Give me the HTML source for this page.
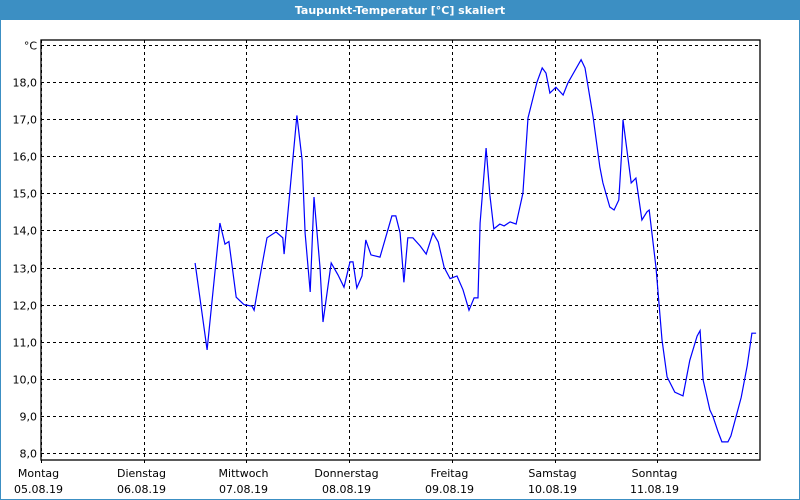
<!DOCTYPE html>
<html><head><meta charset="utf-8"><style>
body{margin:0;background:#fff;}
#wrap{position:relative;width:800px;height:500px;overflow:hidden;font-family:"DejaVu Sans","Liberation Sans",sans-serif;}
</style></head><body>
<div id="wrap">
<svg id="chart" width="800" height="500" xmlns="http://www.w3.org/2000/svg">
<rect x="0" y="0" width="800" height="500" fill="#fff"/>
<rect x="0.5" y="0.5" width="799" height="499" fill="none" stroke="#3c8fc3" stroke-width="1"/>
<rect x="0" y="0" width="800" height="20" fill="#3c8fc3"/>
<text x="400" y="14" text-anchor="middle" fill="#fff" font-size="11" font-weight="bold">Taupunkt-Temperatur [°C] skaliert</text>
<g id="grid"></g>
<g id="labels" font-size="11" fill="#000"></g>
<polyline id="line" fill="none" stroke="#0000ff" stroke-width="1.2"/>
<rect x="41" y="40" width="719" height="420" fill="none" stroke="#000" stroke-width="1.3"/>
</svg>
</div>
<script>
const dayNames=["Montag","Dienstag","Mittwoch","Donnerstag","Freitag","Samstag","Sonntag"];
const dayDates=["05.08.19","06.08.19","07.08.19","08.08.19","09.08.19","10.08.19","11.08.19"];
const yTicks=[8,9,10,11,12,13,14,15,16,17,18];
const hours=[36.0,38.8,41.8,43.0,43.9,45.6,47.4,49.3,49.8,50.9,52.8,54.9,56.5,56.8,59.8,61.0,61.7,62.9,63.8,65.2,65.9,67.8,69.4,70.8,72.2,72.9,73.8,75.0,75.9,77.1,79.2,82.0,82.9,83.9,84.8,85.7,86.9,88.6,90.0,91.6,92.8,94.2,95.6,97.2,98.6,100.0,101.2,102.1,102.6,104.0,104.9,105.8,107.2,108.2,109.6,111.0,112.6,113.8,115.9,117.1,118.0,118.9,120.3,122.0,123.1,126.2,127.1,129.0,130.6,131.3,132.9,133.9,135.0,135.7,136.0,137.9,139.0,140.4,141.6,142.1,143.7,145.1,146.3,148.1,150.0,151.6,153.3,154.0,154.7,156.3,157.0,158.2,159.1,160.5,161.2,163.6,165.0,166.1,167.1];
const values=[13.12,10.78,14.2,13.63,13.7,12.2,12.0,11.96,11.85,12.58,13.8,13.96,13.8,13.36,17.1,15.9,13.93,12.34,14.9,13.0,11.53,13.12,12.8,12.47,13.15,13.15,12.45,12.77,13.74,13.34,13.28,14.39,14.39,13.93,12.6,13.8,13.8,13.58,13.36,13.93,13.69,13.0,12.7,12.77,12.4,11.85,12.18,12.18,14.2,16.22,14.95,14.04,14.17,14.12,14.23,14.17,15.0,17.03,18.0,18.38,18.24,17.7,17.86,17.65,17.97,18.6,18.38,17.06,15.7,15.28,14.63,14.55,14.82,16.17,16.98,15.28,15.41,14.28,14.5,14.55,13.0,11.05,10.05,9.64,9.54,10.5,11.15,11.3,9.97,9.16,8.99,8.57,8.3,8.3,8.46,9.5,10.35,11.23,11.23];
const X0=41,X1=760,Y8=453,PX=37.1;
function xs(h){return X0+h*(X1-X0)/168;}
function ys(v){return Y8-(v-8)*PX;}
const NS="http://www.w3.org/2000/svg";
const grid=document.getElementById('grid'),labels=document.getElementById('labels');
function mk(tag,attrs,parent){const e=document.createElementNS(NS,tag);for(const k in attrs)e.setAttribute(k,attrs[k]);parent.appendChild(e);return e;}
const yGridVals=yTicks.concat([19]);
yGridVals.forEach(v=>{
  const y=Math.round(ys(v))+0.5;
  const l=mk('line',{x1:X0,x2:X1,y1:y,y2:y,stroke:'#000','stroke-dasharray':'3,3','stroke-width':1},grid);
  
  
  const t=mk('text',{x:37,y:y+4,'text-anchor':'end'},labels);
  t.textContent=(v===19)?'°C':v.toFixed(1).replace('.',',');
  
  
});
dayNames.forEach((d,i)=>{
  const x=Math.round(xs(i*24))+0.5;
  const l=mk('line',{x1:x,x2:x,y1:40,y2:464,stroke:'#000','stroke-dasharray':'3,3','stroke-width':1},grid);
  
  
  const t=mk('text',{x:x-3,y:477,'text-anchor':'middle'},labels);
  t.textContent=d;
  
  
  const t2=mk('text',{x:x-3,y:493,'text-anchor':'middle'},labels);
  t2.textContent=dayDates[i];
  
  
});
document.getElementById('line').setAttribute('points',hours.map((h,i)=>xs(h).toFixed(1)+','+ys(values[i]).toFixed(1)).join(' '));
</script>
</body></html>
